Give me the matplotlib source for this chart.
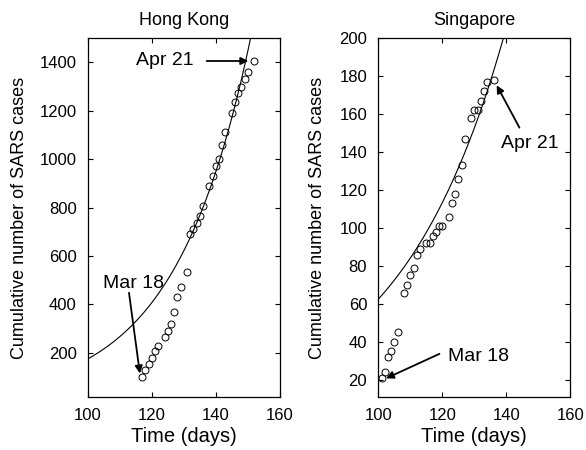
import numpy as np
import matplotlib
matplotlib.use("Agg")
import matplotlib.pyplot as plt

plt.rcParams['font.family'] = ['Liberation Sans', 'DejaVu Sans']

# ---- Data ----
hk_days = [117, 118, 119, 120, 121, 122, 124, 125, 126, 127, 128, 129, 131, 132, 133,
           134, 135, 136, 138, 139, 140, 141, 142, 143, 145, 146, 147, 148, 149, 150, 152]
hk_cases = [99, 128, 154, 177, 208, 228, 265, 290, 320, 370, 429, 473, 534, 689, 711,
            738, 766, 805, 887, 932, 973, 1002, 1060, 1111, 1191, 1235, 1271, 1299, 1329, 1361, 1404]

sg_days = [101, 102, 103, 104, 105, 106, 108, 109, 110, 111, 112, 113, 115, 116, 117,
           118, 119, 120, 122, 123, 124, 125, 126, 127, 129, 130, 131, 132, 133, 134, 136]
sg_cases = [21, 24, 32, 35, 40, 45, 66, 70, 75, 79, 86, 89, 92, 92, 96,
            98, 101, 101, 106, 113, 118, 126, 133, 147, 158, 162, 162, 167, 172, 177, 178]

# exponential fit parameters (value at day 100 and growth rate)
hk_fit_a, hk_fit_rate = 175.0, 0.0422
sg_fit_a, sg_fit_rate = 62.5, 0.02975

x_ticks = [100, 120, 140, 160]
hk_yticks = [200, 400, 600, 800, 1000, 1200, 1400]
sg_yticks = [20, 40, 60, 80, 100, 120, 140, 160, 180, 200]

fig = plt.figure(figsize=(5.86, 4.5), dpi=100)
ax1 = fig.add_axes([0.1497, 0.1178, 0.3276, 0.7978])
ax2 = fig.add_axes([0.6456, 0.1178, 0.3276, 0.7978])

t = np.linspace(100, 160, 400)


def style(ax, yticks, ylim, title, ylab_x):
    ax.set_xlim(100, 160)
    ax.set_ylim(*ylim)
    ax.set_xticks(x_ticks)
    ax.set_yticks(yticks)
    ax.tick_params(direction='in', length=3.5, width=0.8, top=True, right=True,
                   labelsize=12, pad=8, colors='black')
    for s in ax.spines.values():
        s.set_linewidth(0.9)
    ax.set_title(title, fontsize=13, pad=9)
    ax.set_xlabel('Time (days)', fontsize=14.5)
    ax.xaxis.set_label_coords(0.5, -0.083)
    ax.set_ylabel('Cumulative number of SARS cases', fontsize=13)
    ax.yaxis.set_label_coords(ylab_x, 0.5)


# Hong Kong
ax1.plot(t, hk_fit_a * np.exp(hk_fit_rate * (t - 100)), color='black', lw=0.8)
ax1.plot(hk_days, hk_cases, 'o', mfc='none', mec='black', ms=5, mew=0.7)
style(ax1, hk_yticks, (18, 1500), 'Hong Kong', -0.31)

arrow = dict(arrowstyle='-|>', color='black', lw=1.3, mutation_scale=11,
             shrinkA=0, shrinkB=0)
ax1.text(115.1, 1388, 'Apr 21', fontsize=14, ha='left', va='baseline')
ax1.annotate('', xy=(150.2, 1405), xytext=(137.2, 1405), arrowprops=arrow)
ax1.text(104.7, 467, 'Mar 18', fontsize=14, ha='left', va='baseline')
ax1.annotate('', xy=(116.3, 115), xytext=(112.9, 448), arrowprops=arrow)

# Singapore
ax2.plot(t, sg_fit_a * np.exp(sg_fit_rate * (t - 100)), color='black', lw=0.8)
ax2.plot(sg_days, sg_cases, 'o', mfc='none', mec='black', ms=5, mew=0.7)
style(ax2, sg_yticks, (11, 200), 'Singapore', -0.275)

ax2.text(138.3, 142.2, 'Apr 21', fontsize=14, ha='left', va='baseline')
ax2.annotate('', xy=(137.0, 175.1), xytext=(144.1, 152.8), arrowprops=arrow)
ax2.text(121.9, 30.0, 'Mar 18', fontsize=14, ha='left', va='baseline')
ax2.annotate('', xy=(102.4, 20.8), xytext=(119.1, 33.7), arrowprops=arrow)

fig.savefig('out.png', dpi=100)
